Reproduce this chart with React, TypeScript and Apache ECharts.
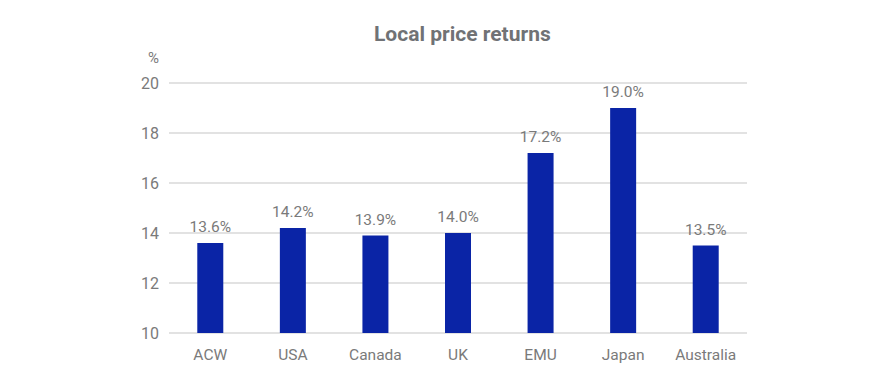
import React, { useEffect, useRef } from "react";
import * as echarts from "echarts";

const categories = ["ACW", "USA", "Canada", "UK", "EMU", "Japan", "Australia"];
const returns = [13.6, 14.2, 13.9, 14.0, 17.2, 19.0, 13.5];
const yTicks = { min: 10, max: 20, interval: 2 };

export default function App() {
  const ref = useRef<HTMLDivElement>(null);
  useEffect(() => {
    if (!ref.current) return;
    const chart = echarts.init(ref.current, undefined, { renderer: "svg" });
    const font = "Roboto, 'Noto Sans', sans-serif";
    chart.setOption({
      animation: false,
      textStyle: { fontFamily: font },
      title: {
        text: "Local price returns",
        left: 369,
        top: 18,
        textStyle: { fontSize: 21, fontWeight: "bold", color: "#707275", fontFamily: font },
      },
      graphic: [
        {
          type: "text",
          left: 148,
          top: 50,
          style: { text: "%", fontSize: 15, fill: "#7a7a7a", fontFamily: font },
        },
      ],
      grid: { left: 169, right: 123, top: 83, bottom: 47 },
      xAxis: {
        type: "category",
        data: categories,
        axisLine: { show: false },
        axisTick: { show: false },
        axisLabel: { color: "#7a7a7a", fontSize: 15.5, margin: 14, fontFamily: font },
      },
      yAxis: {
        type: "value",
        min: yTicks.min,
        max: yTicks.max,
        interval: yTicks.interval,
        axisLine: { show: false },
        axisTick: { show: false },
        axisLabel: { color: "#7a7a7a", fontSize: 16, margin: 10, fontFamily: font },
        splitLine: { lineStyle: { color: "#d9d9d9", width: 1.5 } },
      },
      series: [
        {
          type: "bar",
          data: returns,
          barWidth: 26,
          itemStyle: { color: "#0a24a6" },
          label: {
            show: true,
            position: "top",
            distance: 8,
            color: "#7a7a7a",
            fontSize: 15.5,
            fontFamily: font,
            formatter: (p: any) => p.value.toFixed(1) + "%",
          },
        },
      ],
    });
    return () => chart.dispose();
  }, []);
  return (
    <div
      ref={ref}
      style={{ position: "absolute", left: 0, top: 0, width: 870, height: 380 }}
    />
  );
}
